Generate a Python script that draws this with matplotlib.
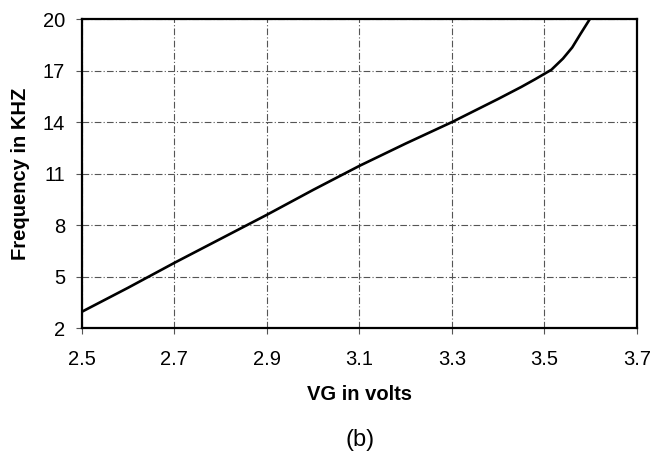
import matplotlib
matplotlib.use('Agg')
from matplotlib import pyplot as plt

# Data
vg = [2.5, 2.6, 2.7, 2.8, 2.9, 3.0, 3.1, 3.2, 3.3, 3.4, 3.45, 3.48, 3.515, 3.54, 3.56, 3.577, 3.598]
freq = [2.95, 4.35, 5.8, 7.2, 8.6, 10.05, 11.45, 12.75, 14.0, 15.35, 16.05, 16.5, 17.05, 17.7, 18.35, 19.1, 20.0]
x_ticks = [2.5, 2.7, 2.9, 3.1, 3.3, 3.5, 3.7]
y_ticks = [2, 5, 8, 11, 14, 17, 20]

plt.rcParams['font.family'] = ['Liberation Sans', 'DejaVu Sans']

fig = plt.figure(figsize=(6.55, 4.55), dpi=100)
ax = fig.add_axes([0.125, 0.279, 0.8475, 0.679])

ax.plot(vg, freq, color='black', linewidth=1.9, solid_capstyle='round',
        solid_joinstyle='round', zorder=3)

ax.set_xlim(2.5, 3.7)
ax.set_ylim(2, 20)
ax.set_xticks(x_ticks)
ax.set_yticks(y_ticks)
ax.set_xticklabels([f'{v:.1f}' for v in x_ticks])
ax.set_yticklabels([str(v) for v in y_ticks])

ax.grid(True, color='#555555', linewidth=0.8, linestyle=(0, (6, 2, 1, 2)))
for spine in ax.spines.values():
    spine.set_linewidth(1.6)
    spine.set_color('black')

ax.tick_params(axis='both', labelsize=14.5, length=4, width=0.8, color='#555555')
ax.tick_params(axis='x', pad=12)
ax.tick_params(axis='y', pad=8)

ax.set_xlabel('VG in volts', fontsize=14.5, fontweight='bold', labelpad=11)
ax.set_ylabel('Frequency in KHZ', fontsize=14.5, fontweight='bold', labelpad=9)

fig.text(0.55, 0.033, '(b)', fontsize=17, ha='center', va='center')

fig.savefig('out.png', dpi=100)
